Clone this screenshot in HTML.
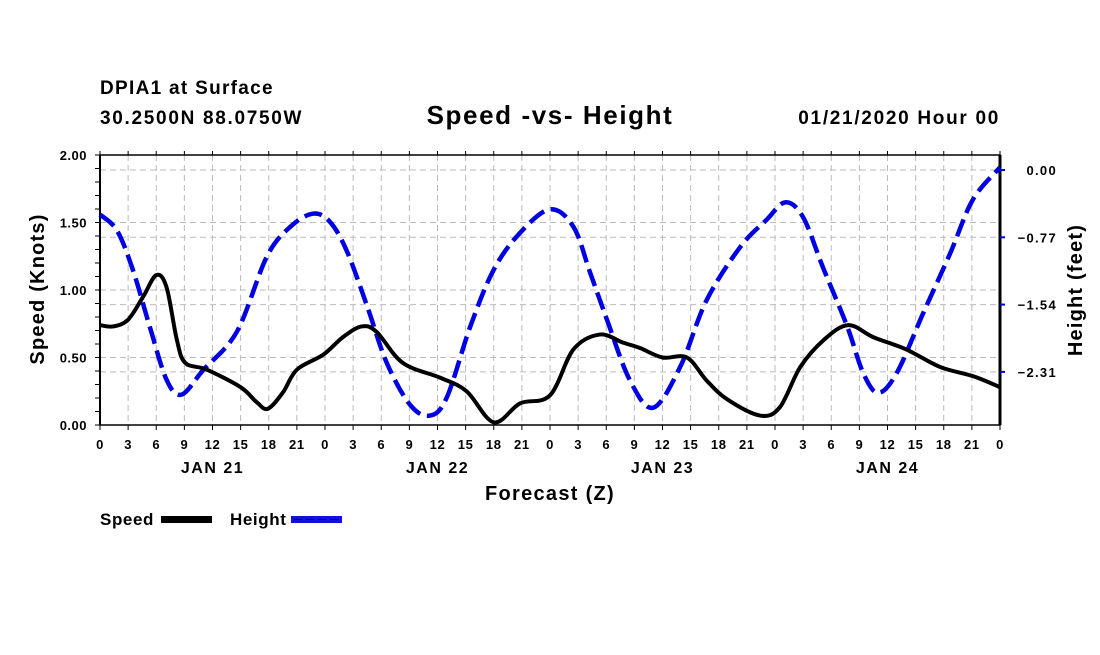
<!DOCTYPE html>
<html><head><meta charset="utf-8"><style>
body{margin:0;background:#fff;}
svg text{font-family:"Liberation Sans",sans-serif;font-weight:bold;fill:#000;}
</style></head><body>
<svg id="chart" width="1100" height="650" xmlns="http://www.w3.org/2000/svg">
<text x="100" y="94" font-size="19" letter-spacing="1.3">DPIA1 at Surface</text>
<text x="100" y="124" font-size="19" letter-spacing="1.7">30.2500N 88.0750W</text>
<text x="550" y="124" font-size="26" letter-spacing="1.6" text-anchor="middle">Speed -vs- Height</text>
<text x="1000" y="124" font-size="19" letter-spacing="1.7" text-anchor="end">01/21/2020 Hour 00</text>
<g id="grid"></g>
<g id="axes"></g>
<g id="series"></g>
<text transform="translate(44,289) rotate(-90)" font-size="20" letter-spacing="1.2" text-anchor="middle">Speed (Knots)</text>
<text transform="translate(1082,290) rotate(-90)" font-size="20" letter-spacing="1.2" text-anchor="middle">Height (feet)</text>
<text x="550" y="500" font-size="20" letter-spacing="1.3" text-anchor="middle">Forecast (Z)</text>
<g>
<text x="100" y="525" font-size="17" letter-spacing="0.6">Speed</text>
<rect x="161" y="516" width="51" height="7" fill="#000"/>
<text x="230" y="525" font-size="17" letter-spacing="0.6">Height</text>
<rect x="291" y="516" width="51" height="7" fill="#1010e0"/>
<line x1="294" y1="519.5" x2="342" y2="519.5" stroke="#000050" stroke-width="1" stroke-dasharray="8,4"/>
</g>
</svg>
<script>
const speedHours=[0,1.4,3,4.6,6,7.1,8.2,9.1,11.4,15,16.7,17.9,19.5,21,23.8,25.9,27.9,29.5,32.3,36.3,39.1,42,44.8,48,50.5,53.3,55.8,57.6,60,62.6,64.7,66.9,70.4,72.5,74.7,77.2,79.8,82.5,86,89.6,93.2,96];
const speedValues=[0.74,0.73,0.78,0.95,1.11,1.02,0.63,0.46,0.41,0.28,0.17,0.12,0.24,0.41,0.52,0.65,0.73,0.69,0.46,0.35,0.25,0.02,0.16,0.22,0.56,0.67,0.61,0.57,0.50,0.50,0.33,0.19,0.07,0.13,0.43,0.63,0.74,0.65,0.56,0.43,0.36,0.28];
const heightHours=[0,1.8,3.5,5.3,7.1,8.7,11,14.6,17.8,20.3,22.7,24.5,26.3,28.5,30.6,33.1,35.2,37,39.5,42,44.8,48,50.5,52.3,54.1,56.5,59,61.9,64.7,68.3,71.1,73.1,75,77.1,79.7,81.4,83,85,87.8,90.7,93.1,96];
const heightValues=[-0.51,-0.69,-1.14,-1.79,-2.40,-2.57,-2.29,-1.85,-0.99,-0.65,-0.50,-0.59,-0.92,-1.56,-2.21,-2.69,-2.81,-2.60,-1.79,-1.14,-0.72,-0.45,-0.65,-1.18,-1.72,-2.40,-2.72,-2.25,-1.49,-0.88,-0.57,-0.37,-0.54,-1.11,-1.79,-2.32,-2.55,-2.32,-1.64,-0.95,-0.34,0.03];
const speedTicks=[0,0.5,1.0,1.5,2.0];
const speedTickLabels=["0.00","0.50","1.00","1.50","2.00"];
const heightTicks=[0,-0.77,-1.54,-2.31];
const heightTickLabels=["0.00","−0.77","−1.54","−2.31"];
const hourLabels=["0","3","6","9","12","15","18","21","0","3","6","9","12","15","18","21","0","3","6","9","12","15","18","21","0","3","6","9","12","15","18","21","0"];
const dayLabels=["JAN 21","JAN 22","JAN 23","JAN 24"];

const L=100,R=1000,T=155,B=425,NS="http://www.w3.org/2000/svg";
const xS=h=>L+h*(R-L)/96;
const yS=s=>B-s*(B-T)/2;
const yH=f=>170-f*87.4;
function mk(tag,attrs,parent){const e=document.createElementNS(NS,tag);for(const k in attrs)e.setAttribute(k,attrs[k]);parent.appendChild(e);return e;}
const grid=document.getElementById('grid'),axes=document.getElementById('axes'),series=document.getElementById('series');
for(let i=1;i<32;i++){const l=mk('line',{x1:xS(i*3),x2:xS(i*3),y1:T,y2:B,stroke:'#bbb','stroke-width':1,'stroke-dasharray':'6,4'},grid);

}
speedTicks.forEach((s,i)=>{if(s>0&&s<2){const l=mk('line',{x1:L,x2:R,y1:yS(s),y2:yS(s),stroke:'#bbb','stroke-width':1,'stroke-dasharray':'6,4'},grid);

}});
heightTicks.forEach(f=>{const l=mk('line',{x1:L,x2:R,y1:yH(f),y2:yH(f),stroke:'#bbb','stroke-width':1,'stroke-dasharray':'6,4'},grid);

});
const frame=mk('rect',{x:L,y:T,width:R-L,height:B-T,fill:'none',stroke:'#000','stroke-width':1.5},axes);


mk('line',{x1:L,x2:L,y1:T,y2:B,stroke:'#000','stroke-width':2},axes);
mk('line',{x1:R,x2:R,y1:T,y2:B,stroke:'#000','stroke-width':3},axes);
for(let i=0;i<=20;i++){mk('line',{x1:L-5,x2:L,y1:yS(i*0.1),y2:yS(i*0.1),stroke:'#000','stroke-width':1},axes);}
speedTickLabels.forEach((t,i)=>{const e=mk('text',{x:L-13,y:yS(speedTicks[i])+5,'font-size':13,'letter-spacing':0.5,'text-anchor':'end'},axes);e.textContent=t;

});
heightTickLabels.forEach((t,i)=>{mk('line',{x1:R,x2:R+5,y1:yH(heightTicks[i]),y2:yH(heightTicks[i]),stroke:'#0000e0','stroke-width':2},axes);
const e=mk('text',{x:1057,y:yH(heightTicks[i])+5,'font-size':13,'letter-spacing':1.3,'text-anchor':'end'},axes);e.textContent=t;

});
hourLabels.forEach((t,i)=>{const x=xS(i*3);mk('line',{x1:x,x2:x,y1:T,y2:T-4,stroke:'#000'},axes);mk('line',{x1:x,x2:x,y1:B,y2:B+5,stroke:'#000'},axes);
const e=mk('text',{x:x,y:B+24,'font-size':13,'letter-spacing':0.6,'text-anchor':'middle'},axes);e.textContent=t;

});
dayLabels.forEach((t,i)=>{const e=mk('text',{x:xS(12+24*i),y:B+48,'font-size':16,'letter-spacing':1.5,'text-anchor':'middle'},axes);e.textContent=t;

});
function path(xs,ys){const p=xs.map((x,i)=>[x,ys[i]]);let d='M'+p[0][0]+','+p[0][1];
for(let i=0;i<p.length-1;i++){const p0=p[Math.max(0,i-1)],p1=p[i],p2=p[i+1],p3=p[Math.min(p.length-1,i+2)];
const c1=[p1[0]+(p2[0]-p0[0])/6,p1[1]+(p2[1]-p0[1])/6],c2=[p2[0]-(p3[0]-p1[0])/6,p2[1]-(p3[1]-p1[1])/6];
d+=` C${c1[0]},${c1[1]} ${c2[0]},${c2[1]} ${p2[0]},${p2[1]}`;}return d;}
const hp=mk('path',{d:path(heightHours.map(xS),heightValues.map(yH)),fill:'none',stroke:'#0000e0','stroke-width':4.5,'stroke-dasharray':'18,7'},series);


const sp=mk('path',{d:path(speedHours.map(xS),speedValues.map(yS)),fill:'none',stroke:'#000','stroke-width':4},series);


</script>
</body></html>
